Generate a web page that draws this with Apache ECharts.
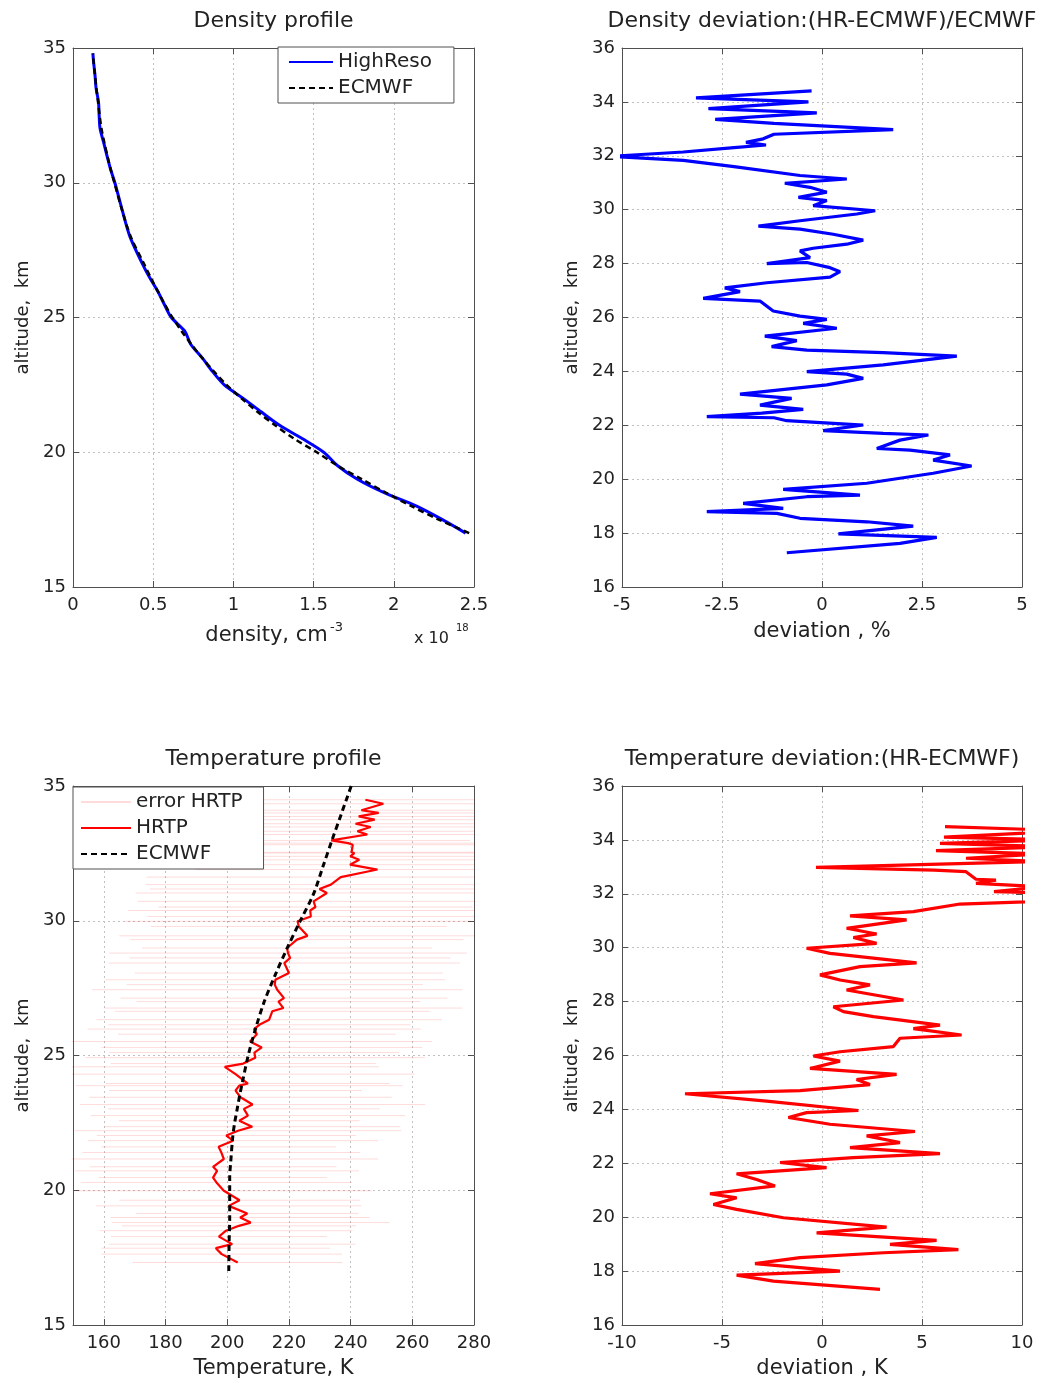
<!DOCTYPE html>
<html>
<head>
<meta charset="utf-8">
<title>Density / temperature profiles</title>
<script src="https://cdn.jsdelivr.net/npm/echarts@6/dist/echarts.min.js"></script>
<style>
body { margin: 0; background: #fff; }
.panel { position: absolute; }
</style>
</head>
<body>
<div id="densProfile" class="panel" style="left:0;top:0;width:525px;height:692px"></div>
<div id="densDeviation" class="panel" style="left:525px;top:0;width:526px;height:692px"></div>
<div id="tempProfile" class="panel" style="left:0;top:692px;width:525px;height:692px"></div>
<div id="tempDeviation" class="panel" style="left:525px;top:692px;width:526px;height:692px"></div>
<script>
/*
 * 4 panels:
 * 1. density profile (HighReso vs ECMWF), x10^18 cm-3
 * 2. density deviation, %
 * 3. temperature profile with error bars
 * 4. temperature deviation, K
 */

// ---- density profile (altitude km / density x1e18) ----
var densAlt      = [17.0, 17.5, 18.0, 18.5, 19.0, 19.5, 20.0, 20.5, 21.0, 21.5, 22.0, 22.5, 23.0, 23.5, 24.0, 24.5, 25.0, 25.5, 26.0, 26.5, 27.0, 28.0, 29.0, 30.0, 30.5, 31.0, 31.5, 32.0, 32.5, 33.0, 33.5, 34.0, 34.5, 34.8];
var densEcmwf    = [2.47, 2.28, 2.11, 1.95, 1.80, 1.65, 1.52, 1.38, 1.26, 1.15, 1.05, 0.957, 0.878, 0.805, 0.738, 0.676, 0.620, 0.571, 0.526, 0.483, 0.442, 0.360, 0.305, 0.258, 0.235, 0.214, 0.195, 0.178, 0.166, 0.156, 0.146, 0.137, 0.128, 0.124];
var densHighReso = [2.448, 2.303, 2.142, 1.940, 1.773, 1.650, 1.563, 1.431, 1.288, 1.173, 1.061, 0.943, 0.869, 0.806, 0.735, 0.696, 0.613, 0.568, 0.526, 0.476, 0.432, 0.355, 0.306, 0.261, 0.234, 0.212, 0.191, 0.169, 0.163, 0.159, 0.144, 0.137, 0.128, 0.124];

// ---- density deviation (HR-ECMWF)/ECMWF, % ----
var devAlt = [34.41, 34.15, 34.00, 33.75, 33.59, 33.35, 33.20, 32.97, 32.80, 32.63, 32.50, 32.40, 32.30, 32.14, 31.98, 31.83, 31.60, 31.27, 31.14, 30.98,
  30.83, 30.65, 30.46, 30.34, 30.15, 29.96, 29.84, 29.59, 29.39, 29.28, 29.09, 28.87, 28.72, 28.57, 28.47, 28.22, 28.00, 28.04, 27.85, 27.70,
  27.50, 27.29, 27.10, 26.96, 26.71, 26.61, 26.24, 26.05, 25.93, 25.78, 25.60, 25.31, 25.14, 24.92, 24.79, 24.70, 24.57, 24.24, 23.99, 23.90,
  23.74, 23.50, 23.16, 23.00, 22.75, 22.59, 22.45, 22.32, 22.28, 22.17, 22.01, 21.80, 21.70, 21.64, 21.45, 21.14, 21.08, 20.90, 20.71, 20.49,
  20.22, 19.85, 19.62, 19.41, 19.35, 19.10, 18.92, 18.80, 18.73, 18.55, 18.42, 18.26, 17.97, 17.84, 17.62, 17.27];
var densDev = [-0.26, -3.15, -0.34, -2.84, -0.13, -2.67, -1.2, 1.78, -1.2, -1.47, -1.9, -1.4, -2.2, -3.47, -5.3, -3.47, -2.2, -0.55, 0.62, -0.93,
  -0.3, 0.12, -0.59, 0.12, -0.22, 1.33, 0.87, -0.55, -1.59, -0.55, 0.28, 1.03, 0.62, -0.22, -0.55, -0.3, -1.38, -0.38, 0.2, 0.45,
  0.2, -1.38, -2.43, -2.05, -2.97, -1.55, -1.22, -0.55, 0.12, -0.47, 0.37, -1.43, -0.63, -1.26, -0.38, 1.53, 3.37, 1.53, -0.38, 0.62,
  1.03, 0.12, -2.05, -0.76, -1.55, -0.47, -1.5, -2.88, -1.2, -0.88, 1.03, 0.03, 1.53, 2.66, 1.95, 1.37, 2.2, 3.2, 2.78, 3.74,
  2.78, 1.12, -0.97, 0.95, -0.38, -1.97, -0.97, -2.88, -1.13, -0.55, 1.12, 2.28, 0.41, 2.87, 1.95, -0.88];

// ---- temperature profile: HRTP levels, K ----
var tempAlt = [34.49, 34.34, 34.10, 34.00, 33.87, 33.75, 33.60, 33.48, 33.32, 33.20, 32.98, 32.88, 32.82, 32.54, 32.51, 32.39, 32.26, 32.08, 31.90, 31.62,
  31.34, 31.18, 31.03, 30.72, 30.51, 30.38, 30.16, 29.98, 29.79, 29.44, 29.30, 28.99, 28.80, 28.62, 28.43, 28.06, 27.81, 27.63, 27.44, 27.13,
  27.00, 26.76, 26.64, 26.33, 26.14, 25.98, 25.79, 25.52, 25.30, 25.11, 24.92, 24.70, 24.58, 24.31, 23.96, 23.88, 23.70, 23.45, 23.18, 23.02,
  22.77, 22.58, 22.36, 22.21, 22.03, 21.84, 21.61, 21.40, 21.16, 20.87, 20.72, 20.47, 20.29, 19.98, 19.63, 19.42, 19.14, 18.99, 18.80, 18.68,
  18.50, 18.28, 18.00, 17.85, 17.63, 17.32];
var tempHrtp = [244.8, 250.6, 243.5, 249.1, 242.6, 247.8, 241.6, 246.5, 242.2, 245.4, 233.7, 239.2, 240.7, 240.3, 241.2, 239.9, 242.8, 239.8, 248.7, 236.8,
  233.6, 229.9, 232.3, 228.0, 228.6, 226.9, 227.1, 222.8, 223.2, 226.0, 222.6, 219.4, 219.7, 220.4, 218.5, 220.0, 215.6, 215.4, 216.2, 218.4,
  216.6, 218.2, 214.6, 213.6, 210.4, 208.7, 209.6, 207.4, 211.2, 208.8, 209.1, 205.2, 199.2, 202.7, 206.7, 203.9, 202.7, 204.3, 208.2, 205.4,
  206.7, 203.9, 208.1, 203.5, 199.7, 201.9, 197.2, 198.1, 198.9, 195.4, 196.7, 195.4, 196.5, 198.9, 204.0, 200.5, 206.5, 204.2, 207.6, 203.8,
  199.6, 197.3, 201.6, 196.3, 198.2, 203.4];
// half width of the HRTP error bars, K
var tempErr = [52, 58, 48, 60, 50, 56, 47, 62, 54, 58, 45, 55, 60, 52, 64, 57, 61, 66, 59, 63,
  60, 55, 62, 57, 51, 59, 53, 56, 48, 61, 54, 47, 58, 52, 57, 50, 55, 48, 60, 53,
  46, 58, 51, 56, 49, 54, 45, 59, 52, 47, 55, 43, 50, 58, 46, 53, 41, 49, 56, 44,
  51, 39, 48, 53, 42, 47, 38, 45, 50, 40, 46, 37, 44, 48, 39, 43, 36, 42, 45, 38,
  41, 35, 40, 37, 39, 34];
// HR-ECMWF, K (same levels as tempAlt)
var tempDev = [6.15, 12.5, 6.1, 12.0, 5.9, 11.5, 5.7, 11.0, 7.2, 10.8, -0.3, 5.6, 7.2, 7.7, 8.7, 7.7, 11.0, 8.6, 18.0, 6.9,
  4.57, 1.4, 4.23, 1.23, 2.73, 1.57, 2.73, -0.77, 0.4, 4.73, 1.9, -0.1, 0.9, 2.4, 1.23, 4.07, 0.57, 1.07, 2.57, 5.9,
  4.57, 6.98, 3.9, 3.57, 0.9, -0.43, 0.9, -0.6, 3.73, 1.73, 2.4, -1.1, -6.85, -2.77, 1.82, -0.77, -1.68, 0.4, 4.65, 2.23,
  3.9, 1.4, 5.9, 1.57, -2.1, 0.23, -4.27, -3.27, -2.35, -5.6, -4.27, -5.43, -4.27, -1.93, 3.23, -0.27, 5.73, 3.4, 6.82, 3.07,
  -1.1, -3.35, 0.9, -4.27, -2.43, 2.9];

// ---- ECMWF temperature ----
var ecmwfTempAlt = [17.0, 18.0, 19.0, 20.0, 20.5, 21.0, 22.0, 22.5, 23.0, 23.5, 24.0, 25.0, 26.0, 27.0, 28.0, 29.0, 30.0, 31.0, 32.0, 33.0, 34.0, 35.0];
var ecmwfTemp    = [200.5, 200.6, 200.8, 200.8, 200.8, 201.1, 201.8, 202.4, 203.2, 204.0, 204.9, 206.8, 209.2, 212.0, 215.6, 219.5, 223.7, 228.0, 231.0, 234.0, 237.1, 240.2];

var tempTicks = [160, 180, 200, 220, 240, 260, 280];

// ---------------------------------------------------------------
var FONT = 'DejaVu Sans';
var INK = '#222';
var BOX = '#505050';
var GRIDLINE = '#c2c2c2';

function pairs(xs, ys) {
    var out = [];
    for (var i = 0; i < xs.length; i++) out.push([xs[i], ys[i]]);
    return out;
}

function bottomAxis(min, max, step, name, gap, ticks) {
    var ax = {
        type: 'value', position: 'bottom', min: min, max: max,
        name: name, nameLocation: 'middle', nameGap: gap,
        nameTextStyle: {fontFamily: FONT, fontSize: 21, color: INK},
        axisLine: {show: true, onZero: false, lineStyle: {color: BOX}},
        axisTick: {show: true, inside: true, length: 6, lineStyle: {color: BOX}},
        axisLabel: {fontFamily: FONT, fontSize: 18, color: INK, margin: 9},
        splitLine: {show: true, lineStyle: {color: GRIDLINE, type: [2, 3]}}
    };
    if (ticks) {
        ax.axisTick.customValues = ticks;
        ax.axisLabel.customValues = ticks;
    } else {
        ax.interval = step;
    }
    return ax;
}
function topAxis(min, max, step, title, ticks) {
    var ax = {
        type: 'value', position: 'top', min: min, max: max,
        name: title, nameLocation: 'middle', nameGap: 16,
        nameTextStyle: {fontFamily: FONT, fontSize: 22, color: INK},
        axisLine: {show: true, onZero: false, lineStyle: {color: BOX}},
        axisTick: {show: true, inside: true, length: 6, lineStyle: {color: BOX}},
        axisLabel: {show: false},
        splitLine: {show: false}
    };
    if (ticks) ax.axisTick.customValues = ticks;
    else ax.interval = step;
    return ax;
}
function leftAxis(min, max, step) {
    return {
        type: 'value', position: 'left', min: min, max: max, interval: step,
        name: 'altitude,  km', nameLocation: 'middle', nameGap: 39,
        nameTextStyle: {fontFamily: FONT, fontSize: 18, color: INK},
        axisLine: {show: true, onZero: false, lineStyle: {color: BOX}},
        axisTick: {show: true, inside: true, length: 6, lineStyle: {color: BOX}},
        axisLabel: {fontFamily: FONT, fontSize: 18, color: INK, margin: 7},
        splitLine: {show: true, lineStyle: {color: GRIDLINE, type: [2, 3]}}
    };
}
function rightAxis(min, max, step) {
    return {
        type: 'value', position: 'right', min: min, max: max, interval: step,
        axisLine: {show: true, onZero: false, lineStyle: {color: BOX}},
        axisTick: {show: true, inside: true, length: 6, lineStyle: {color: BOX}},
        axisLabel: {show: false},
        splitLine: {show: false}
    };
}
function curve(name, data, color, width, dash) {
    return {
        name: name, type: 'line', data: data, xAxisIndex: 0, yAxisIndex: 0,
        symbol: 'none', clip: true, silent: true,
        lineStyle: {color: color, width: width, type: dash || 'solid'},
        itemStyle: {color: color}
    };
}
// boxed legend, line icons only (symbol hidden)
function boxLegend(names, left, top, padding, itemWidth) {
    return {
        data: names, orient: 'vertical', left: left, top: top,
        backgroundColor: '#fff', borderColor: BOX, borderWidth: 1, borderRadius: 0,
        padding: padding, itemGap: 6, itemWidth: itemWidth, itemHeight: 14,
        itemStyle: {opacity: 0},
        textStyle: {fontFamily: FONT, fontSize: 20, color: INK}, selectedMode: false
    };
}

// 1 density profile
var myChart = echarts.init(document.getElementById('densProfile'));
var densX = bottomAxis(0, 2.5, 0.5, 'density, cm', 38);
densX.nameTextStyle.padding = [0, 14, 0, 0];
var hrLine = curve('HighReso', pairs(densHighReso, densAlt), '#0000ff', 3);
hrLine.smooth = 0.3;
var ecLine = curve('ECMWF', pairs(densEcmwf, densAlt), '#000', 2.5, [6, 4]);
ecLine.smooth = 0.3;
var option = {
    animation: false,
    grid: {left: 73, top: 48, width: 401, height: 539},
    legend: boxLegend(['HighReso', 'ECMWF'], 278, 47, [5, 22, 5, 10], 44),
    xAxis: [densX, topAxis(0, 2.5, 0.5, 'Density profile')],
    yAxis: [leftAxis(15, 35, 5), rightAxis(15, 35, 5)],
    graphic: [
        {type: 'text', left: 330, top: 621, style: {text: '-3', fontFamily: FONT, fontSize: 13, fill: INK}},
        {type: 'text', left: 414, top: 631, style: {text: 'x 10', fontFamily: FONT, fontSize: 16, fill: INK}},
        {type: 'text', left: 456, top: 623, style: {text: '18', fontFamily: FONT, fontSize: 10, fill: INK}}
    ],
    series: [hrLine, ecLine]
};
myChart.setOption(option);

// 2 density deviation
myChart = echarts.init(document.getElementById('densDeviation'));
var ddY = leftAxis(16, 36, 2);
ddY.nameGap = 40;
option = {
    animation: false,
    grid: {left: 97, top: 48, width: 400, height: 539},
    xAxis: [
        bottomAxis(-5, 5, 2.5, 'deviation , %', 34),
        topAxis(-5, 5, 2.5, 'Density deviation:(HR-ECMWF)/ECMWF')
    ],
    yAxis: [ddY, rightAxis(16, 36, 2)],
    series: [curve('deviation', pairs(densDev, devAlt), '#0000ff', 3.2)]
};
myChart.setOption(option);

// 3 temperature profile
var errSegs = [];
for (var i = 0; i < tempAlt.length; i++) {
    errSegs.push([tempHrtp[i] - tempErr[i], tempAlt[i]], [tempHrtp[i] + tempErr[i], tempAlt[i]], ['-', '-']);
}
var errLine = curve('error HRTP', errSegs, 'rgba(255,0,0,0.14)', 1);
errLine.connectNulls = false;
var ecTLine = curve('ECMWF', pairs(ecmwfTemp, ecmwfTempAlt), '#000', 3, [6, 4]);
ecTLine.smooth = 0.3;
myChart = echarts.init(document.getElementById('tempProfile'));
option = {
    animation: false,
    grid: {left: 73, top: 94, width: 401, height: 539},
    legend: boxLegend(['error HRTP', 'HRTP', 'ECMWF'], 73, 95, [5, 21, 5, 7], 50),
    xAxis: [
        bottomAxis(150, 280, null, 'Temperature, K', 33, tempTicks),
        topAxis(150, 280, null, 'Temperature profile', tempTicks)
    ],
    yAxis: [leftAxis(15, 35, 5), rightAxis(15, 35, 5)],
    series: [
        errLine,
        curve('HRTP', pairs(tempHrtp, tempAlt), '#ff0000', 2.2),
        ecTLine
    ]
};
myChart.setOption(option);

// 4 temperature deviation
myChart = echarts.init(document.getElementById('tempDeviation'));
var tdY = leftAxis(16, 36, 2);
tdY.nameGap = 40;
option = {
    animation: false,
    grid: {left: 97, top: 94, width: 400, height: 539},
    xAxis: [
        bottomAxis(-10, 10, 5, 'deviation , K', 33),
        topAxis(-10, 10, 5, 'Temperature deviation:(HR-ECMWF)')
    ],
    yAxis: [tdY, rightAxis(16, 36, 2)],
    series: [curve('deviation', pairs(tempDev, tempAlt), '#ff0000', 3.2)]
};
myChart.setOption(option);
</script>
</body>
</html>
